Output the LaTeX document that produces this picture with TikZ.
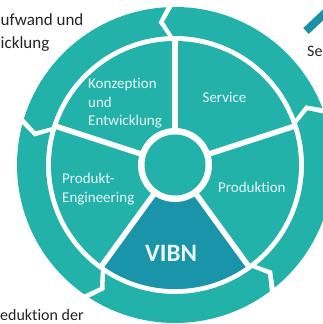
\documentclass[tikz,border=0pt]{standalone}
\usepackage{fontspec}
\setmainfont{Carlito}[Ligatures={NoCommon,NoRare}]
\definecolor{tealA}{RGB}{35,178,170}
\definecolor{vibnC}{RGB}{25,148,168}
\definecolor{barC}{RGB}{26,145,165}
\definecolor{txtC}{RGB}{35,35,35}
\definecolor{wtxtC}{RGB}{232,246,245}
\begin{document}
\begin{tikzpicture}[x=1pt,y=1pt,
  ringseg/.style={fill=tealA},
  spokeline/.style={draw=white,line width=5.5pt},
  intext/.style={text=wtxtC,font=\fontsize{15}{18}\selectfont,inner sep=0pt},
  outtext/.style={text=txtC,inner sep=0pt}]
\useasboundingbox (0,0) rectangle (323,324);
\clip (0,0) rectangle (323,324);
\coordinate (C) at (175,159);
% outer ring of arrows (counter-clockwise flow)
\foreach \a in {20,92,164,236,308} {
  \pgfmathsetmacro\sa{\a+1.1}
  \pgfmathsetmacro\ea{\a+72-1.1}
  \pgfmathsetmacro\st{\sa+3.5}
  \pgfmathsetmacro\et{\ea+3.5}
  \fill[ringseg,shift={(C)}] (\sa:129pt) arc[start angle=\sa,end angle=\ea,radius=129pt]
     -- (\et:143.5pt) -- (\ea:158pt)
     arc[start angle=\ea,end angle=\sa,radius=158pt]
     -- (\st:143.5pt) -- cycle;
}
% inner disc
\fill[tealA] (C) circle[radius=124pt];
\fill[vibnC] (C) -- ++(234:124pt) arc[start angle=234,end angle=306,radius=124pt] -- cycle;
\foreach \s in {18,90,162,234,306} {
  \draw[spokeline] (C) -- ++(\s:126pt);
}
\node[circle,fill=white,minimum size=74pt,inner sep=0pt] (hubw) at (C) {};
\node[circle,fill=tealA,minimum size=61pt,inner sep=0pt] (hub) at (C) {};
% labels in the wheel
\node[intext,anchor=base west] (k1) at (88,235) {Konzeption};
\node[intext,anchor=base west] (k2) at (88,216.5) {und};
\node[intext,anchor=base west] (k3) at (88,198) {Entwicklung};
\node[intext,anchor=base] (sv) at (224.5,221) {Service};
\node[intext,anchor=base west] (p1) at (62,140) {Produkt-};
\node[intext,anchor=base west] (p2) at (62,121) {Engineering};
\node[intext,anchor=base west] (pr) at (218,131) {Produktion};
\node[intext,anchor=base west,font=\fontsize{25}{30}\selectfont\bfseries] (vb) at (145,62) {VIBN};
% cut-off surroundings
\node[outtext,anchor=base west,font=\fontsize{17}{20}\selectfont] (t1) at (0.5,298) {ufwand und};
\node[outtext,anchor=base west,font=\fontsize{17}{20}\selectfont] (t2) at (0.5,275) {icklung};
\node[outtext,anchor=base west,font=\fontsize{16}{19}\selectfont] (se) at (307,267) {Se};
\node[outtext,anchor=base west,font=\fontsize{16}{19}\selectfont] (ed) at (0,4) {eduktion der};
\coordinate (b1) at (306,293);
\coordinate (b2) at (341,326);
\draw[barC,line width=8pt] (b1) -- (b2);
\end{tikzpicture}
\end{document}
